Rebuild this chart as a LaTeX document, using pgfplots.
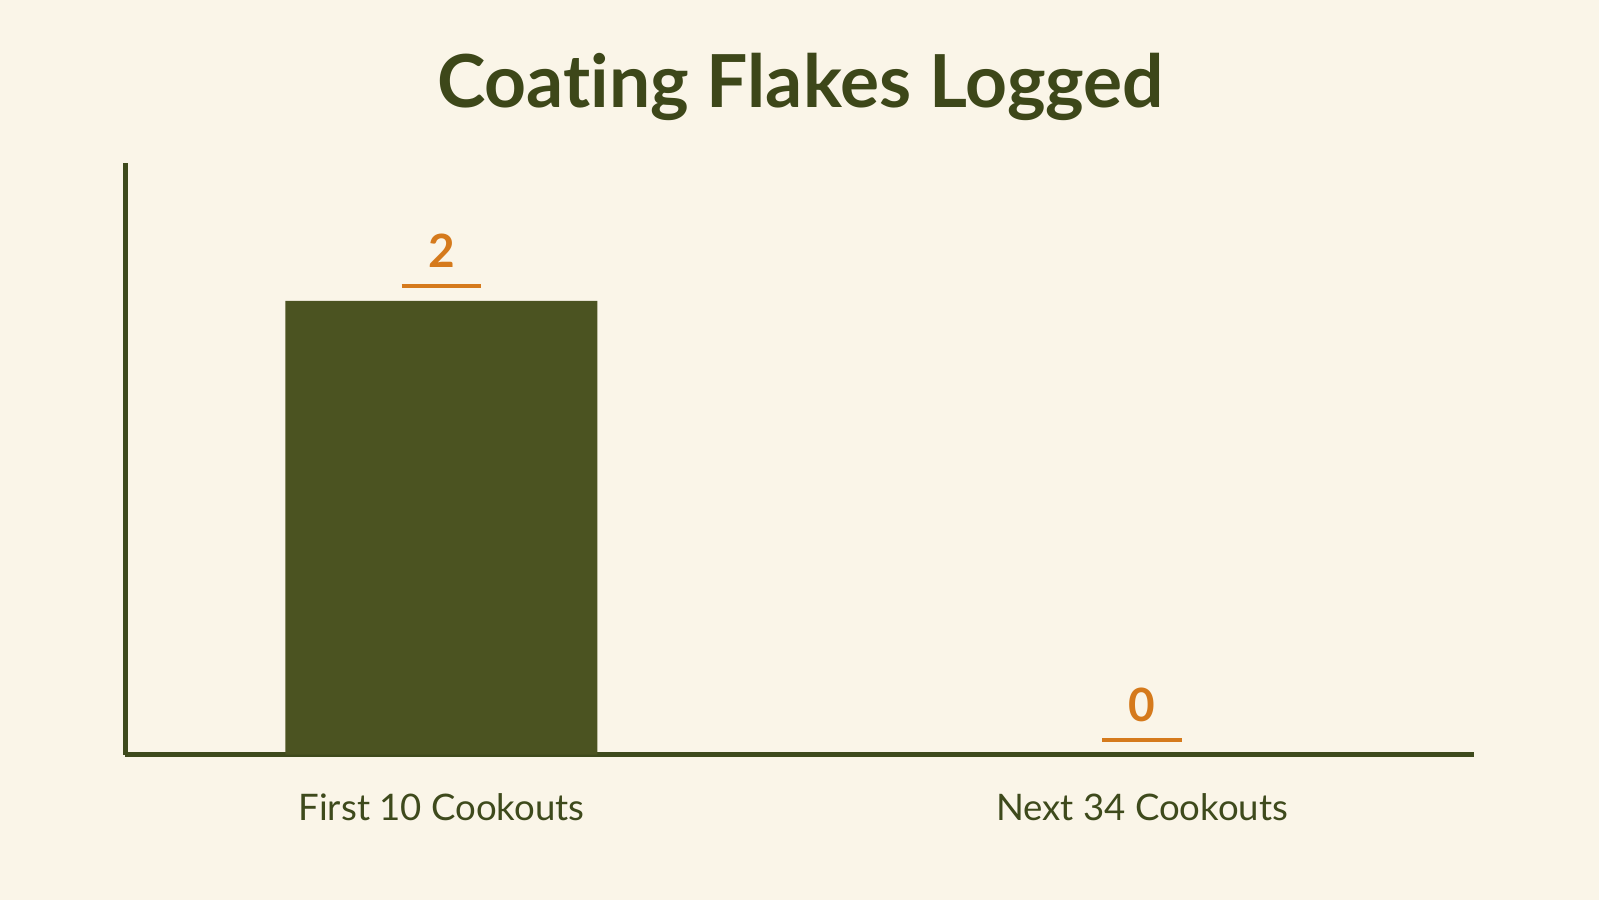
\documentclass[border=0pt]{standalone}
\usepackage{pgfplots}
\pgfplotsset{compat=1.18}
\usepackage{fontspec}
\setmainfont{Lato}[Ligatures=NoCommon]
\definecolor{bg}{HTML}{FAF5E8}
\definecolor{olive}{HTML}{4B5321}
\definecolor{axisc}{HTML}{3E4A1C}
\definecolor{titlec}{HTML}{3D4719}
\definecolor{accent}{HTML}{D57A1C}
\begin{document}
\begin{tikzpicture}
  % page frame
  \fill[bg] (0,0) rectangle (15.68cm,8.83cm);
  \node[anchor=base, font=\bfseries\fontsize{20.4}{24}\selectfont, text=titlec] at (7.85cm,7.78cm) {Coating Flakes Logged};
  \begin{axis}[
    at={(1.23cm,1.43cm)}, anchor=south west,
    scale only axis,
    width=13.22cm, height=5.80cm,
    xmin=-0.451, xmax=1.473,
    ymin=0, ymax=2.607,
    axis x line=bottom, axis y line=left,
    axis line style={axisc, line width=1.2pt, -},
    ybar, bar width=30.6mm,
    xtick=data,
    xticklabels={First 10 Cookouts, Next 34 Cookouts},
    xticklabel style={font=\fontsize{10.2}{12}\selectfont, text=axisc, yshift=-2.6mm},
    major tick length=0pt,
    ytick=\empty,
    /pgf/number format/assume math mode=true,
    nodes near coords={\shortstack{\pgfmathprintnumber\pgfplotspointmeta\\[0.5mm]\rule{7.8mm}{0.4mm}}},
    every node near coord/.append style={font=\bfseries\fontsize{12.8}{14}\selectfont, text=accent, inner sep=0pt, yshift=1.2mm},
  ]
    \addplot[fill=olive, draw=none] coordinates {(0,2) (1,0)};
  \end{axis}
\end{tikzpicture}
\end{document}
